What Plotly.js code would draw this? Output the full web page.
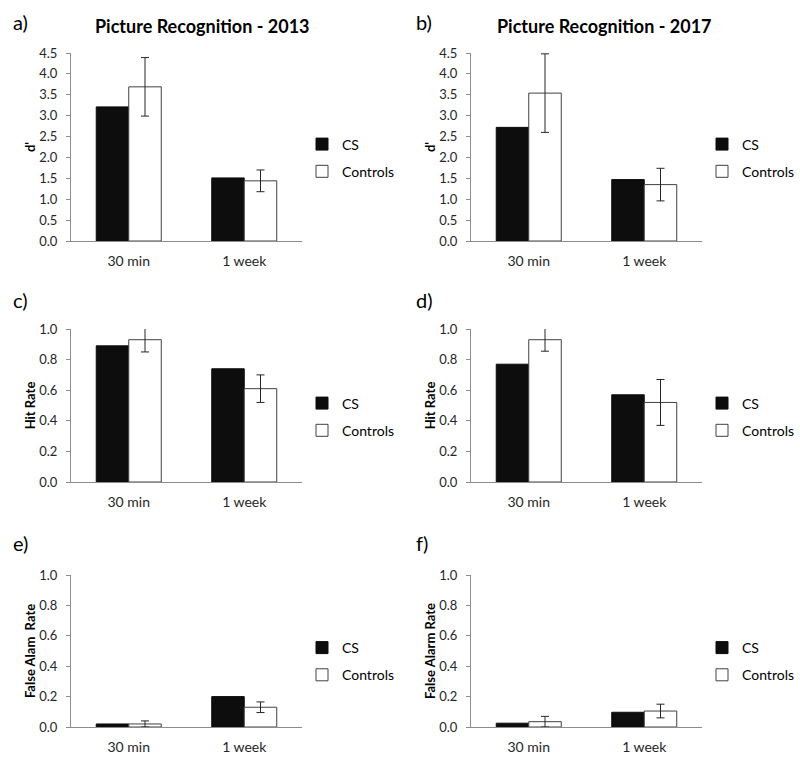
<!DOCTYPE html>
<html>
<head>
<meta charset="utf-8">
<script src="https://cdn.plot.ly/plotly-3.0.1.min.js"></script>
<style>html,body{margin:0;padding:0;background:#fff;}#chart{width:800px;height:761px;}</style>
</head>
<body>
<div id="chart"></div>
<script>
// ---- data ----
var categories = ['30 min', '1 week'];
var groups = ['CS', 'Controls'];

var dprime2013CS = [3.21, 1.51];
var dprime2013Controls = [3.69, 1.44];
var dprime2013ControlsErr = [0.70, 0.26];

var dprime2017CS = [2.72, 1.47];
var dprime2017Controls = [3.54, 1.35];
var dprime2017ControlsErr = [0.94, 0.39];

var hit2013CS = [0.89, 0.74];
var hit2013Controls = [0.93, 0.61];
var hit2013ControlsErr = [0.08, 0.09];

var hit2017CS = [0.77, 0.57];
var hit2017Controls = [0.93, 0.52];
var hit2017ControlsErr = [0.075, 0.15];

var fa2013CS = [0.02, 0.20];
var fa2013Controls = [0.02, 0.13];
var fa2013ControlsErr = [0.02, 0.035];

var fa2017CS = [0.025, 0.097];
var fa2017Controls = [0.035, 0.105];
var fa2017ControlsErr = [0.035, 0.045];

var panelTitles = ['Picture Recognition - 2013', 'Picture Recognition - 2017'];
var panelLabels = ['a)', 'b)', 'c)', 'd)', 'e)', 'f)'];
var yTitles = ["d'", "d'", 'Hit Rate', 'Hit Rate', 'False Alam  Rate', 'False Alarm Rate'];

// ---- layout helpers ----
var W = 800, H = 761;
var FONT = 'Lato, "Open Sans", sans-serif';
function px(x) { return x / W; }
function py(y) { return 1 - y / H; }

var panels = [
  {cs: dprime2013CS, ctl: dprime2013Controls, err: dprime2013ControlsErr, range: [0, 4.5], dtick: 0.5},
  {cs: dprime2017CS, ctl: dprime2017Controls, err: dprime2017ControlsErr, range: [0, 4.5], dtick: 0.5},
  {cs: hit2013CS, ctl: hit2013Controls, err: hit2013ControlsErr, range: [0, 1], dtick: 0.2},
  {cs: hit2017CS, ctl: hit2017Controls, err: hit2017ControlsErr, range: [0, 1], dtick: 0.2},
  {cs: fa2013CS, ctl: fa2013Controls, err: fa2013ControlsErr, range: [0, 1], dtick: 0.2},
  {cs: fa2017CS, ctl: fa2017Controls, err: fa2017ControlsErr, range: [0, 1], dtick: 0.2}
];

var xDomains = [[px(71), px(302)], [px(471), px(702)]];
var yDomains = [[py(241), py(53)], [py(482), py(329)], [py(727), py(575)]];
var legendY = [py(158), py(417), py(661.5)];
var legendX = [px(302), px(702)];
var labelY = [py(22), py(300), py(543)];
var labelX = [px(11), px(414)];

var data = [];
var layout = {
  width: W, height: H,
  margin: {l: 0, r: 0, t: 0, b: 0},
  paper_bgcolor: '#ffffff',
  plot_bgcolor: 'rgba(0,0,0,0)',
  barmode: 'group',
  bargap: 0.437,
  bargroupgap: 0,
  font: {family: FONT, size: 13, color: '#262626'},
  annotations: [],
  showlegend: true
};

panels.forEach(function (p, i) {
  var col = i % 2, row = Math.floor(i / 2);
  var n = i + 1;
  var xa = 'x' + (n === 1 ? '' : n), ya = 'y' + (n === 1 ? '' : n);
  var xk = 'xaxis' + (n === 1 ? '' : n), yk = 'yaxis' + (n === 1 ? '' : n);
  var lg = 'legend' + (n === 1 ? '' : n);

  data.push({
    type: 'bar', name: groups[0], x: categories, y: p.cs,
    xaxis: xa, yaxis: ya, legend: lg, legendgroup: 'cs' + n,
    marker: {color: '#0d0d0d', line: {color: '#0d0d0d', width: 1}},
    hoverinfo: 'x+y'
  });
  data.push({
    type: 'bar', name: groups[1], x: categories, y: p.ctl,
    xaxis: xa, yaxis: ya, legend: lg, legendgroup: 'ctl' + n,
    marker: {color: '#ffffff', line: {color: '#404040', width: 1}},
    error_y: {type: 'data', array: p.err, visible: true, color: '#262626', thickness: 1, width: 4},
    hoverinfo: 'x+y'
  });

  layout[xk] = {
    domain: xDomains[col], anchor: ya,
    type: 'category',
    showline: true, linecolor: '#8c8c8c', linewidth: 1,
    showgrid: false, zeroline: false,
    ticks: '', ticklabelstandoff: 7,
    tickfont: {family: FONT, size: 14, color: '#262626'},
    fixedrange: true
  };
  layout[yk] = {
    domain: yDomains[row], anchor: xa,
    range: p.range, dtick: p.dtick, tick0: 0, tickformat: '.1f',
    showline: true, linecolor: '#8c8c8c', linewidth: 1,
    showgrid: false, zeroline: false,
    ticks: 'outside', ticklen: 4, tickcolor: '#8c8c8c', tickwidth: 1,
    ticklabelstandoff: 6,
    tickfont: {family: FONT, size: 13, color: '#262626'},
    title: {text: '<b>' + yTitles[i] + '</b>', font: {family: FONT, size: 13, color: '#000'}, standoff: 0},
    fixedrange: true
  };
  layout[lg] = {
    x: legendX[col], xanchor: 'left',
    y: legendY[row], yanchor: 'middle',
    bgcolor: 'rgba(0,0,0,0)', borderwidth: 0,
    traceorder: 'grouped', tracegroupgap: 6,
    font: {family: FONT, size: 14, color: '#000'}
  };

  layout.annotations.push({
    xref: 'paper', yref: 'paper', x: labelX[col], y: labelY[row],
    xanchor: 'left', yanchor: 'middle', showarrow: false,
    text: panelLabels[i], font: {family: FONT, size: 20, color: '#000'}
  });
});

layout.annotations.push({
  xref: 'paper', yref: 'paper', x: px(202.5), y: py(26), xanchor: 'center', yanchor: 'middle',
  showarrow: false, text: '<b>' + panelTitles[0] + '</b>', font: {family: FONT, size: 18, color: '#000'}
});
layout.annotations.push({
  xref: 'paper', yref: 'paper', x: px(604.5), y: py(26), xanchor: 'center', yanchor: 'middle',
  showarrow: false, text: '<b>' + panelTitles[1] + '</b>', font: {family: FONT, size: 18, color: '#000'}
});

Plotly.newPlot('chart', data, layout, {displayModeBar: false, staticPlot: true});
</script>
</body>
</html>
